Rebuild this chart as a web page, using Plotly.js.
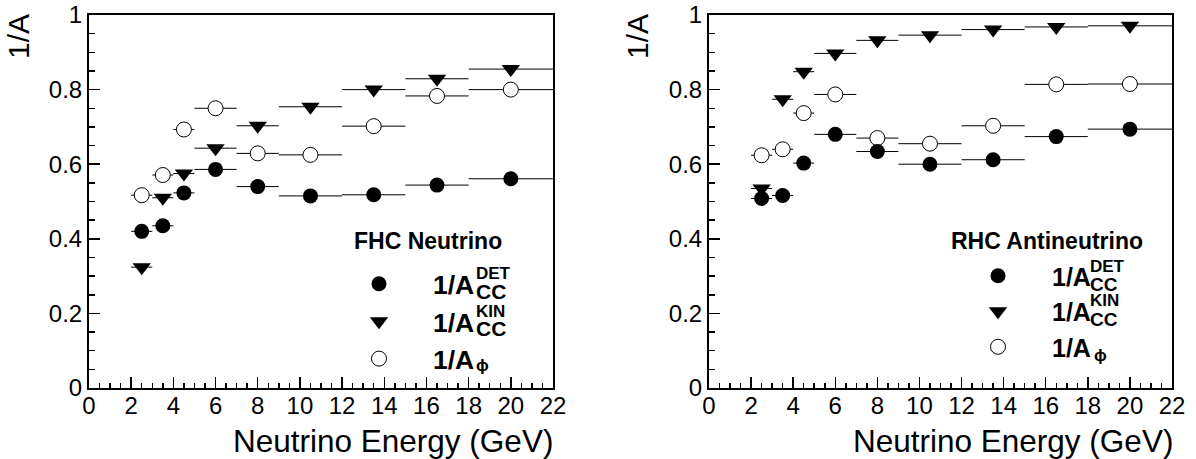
<!DOCTYPE html>
<html><head><meta charset="utf-8">
<script src="https://cdn.plot.ly/plotly-3.0.1.min.js"></script>
<style>html,body{margin:0;padding:0;background:#fff}#chart{width:1196px;height:459px}</style>
</head><body><div id="chart"></div>
<script>
// Energy bin edges (GeV)
const binEdges = [2, 3, 4, 5, 7, 9, 12, 15, 18, 22];
// FHC neutrino
const fhcDet = [0.420, 0.435, 0.523, 0.586, 0.540, 0.515, 0.518, 0.544, 0.561];
const fhcKin = [0.324, 0.510, 0.575, 0.643, 0.703, 0.754, 0.800, 0.829, 0.855];
const fhcPhi = [0.517, 0.571, 0.693, 0.750, 0.629, 0.625, 0.702, 0.783, 0.800];
// RHC antineutrino
const rhcDet = [0.508, 0.516, 0.603, 0.680, 0.634, 0.600, 0.612, 0.674, 0.694];
const rhcKin = [0.535, 0.774, 0.848, 0.897, 0.932, 0.946, 0.961, 0.968, 0.971];
const rhcPhi = [0.624, 0.640, 0.737, 0.787, 0.670, 0.655, 0.703, 0.814, 0.815];
const xTicks = [0,2,4,6,8,10,12,14,16,18,20,22];
const yTicks = [0,0.2,0.4,0.6,0.8,1];
const yTickText = ['0','0.2','0.4','0.6','0.8','1'];

const centers = binEdges.slice(0,-1).map((e,i)=>(e+binEdges[i+1])/2);
const halfW = binEdges.slice(0,-1).map((e,i)=>(binEdges[i+1]-e)/2);

const FONT = 'Liberation Sans, Arial, Helvetica, sans-serif';
const W = 1196, H = 459;
const px = v => v / W;
const py = v => 1 - v / H;

const styles = {
  det: {symbol:'circle', size:15, color:'#000', line:{width:0}},
  kin: {symbol:'triangle-down', size:16, color:'#000', line:{width:0}},
  phi: {symbol:'circle', size:15, color:'#fff', line:{width:1, color:'#000'}}
};
function tr(name, y, st, xa, ya, leg){
  return {
    type:'scatter', mode:'markers', name:name, x:centers, y:y,
    xaxis:xa, yaxis:ya, legend:leg,
    marker:styles[st],
    error_x:{type:'data', array:halfW, symmetric:true, width:0, thickness:1, color:'#000'},
    hoverinfo:'x+y+name'
  };
}
const data = [
  tr('<b>1/A</b>', fhcPhi, 'phi', 'x', 'y', 'legend'),
  tr('<b>1/A</b>', fhcKin, 'kin', 'x', 'y', 'legend'),
  tr('<b>1/A</b>', fhcDet, 'det', 'x', 'y', 'legend'),
  tr('<b>1/A</b>', rhcPhi, 'phi', 'x2', 'y2', 'legend2'),
  tr('<b>1/A</b>', rhcKin, 'kin', 'x2', 'y2', 'legend2'),
  tr('<b>1/A</b>', rhcDet, 'det', 'x2', 'y2', 'legend2')
];

function xax(domain, anchor){
  return {domain:domain, anchor:anchor, range:[0,22], tickvals:xTicks,
    ticks:'inside', ticklen:11, tickwidth:1.5, tickcolor:'#000',
    minor:{dtick:0.5, ticks:'inside', ticklen:5, tickwidth:1.5, tickcolor:'#000'},
    showline:true, mirror:true, linewidth:2, linecolor:'#000',
    showgrid:false, zeroline:false, fixedrange:true, ticklabelstandoff:-5,
    tickfont:{family:FONT, size:24, color:'#000'}};
}
function yax(domain, anchor){
  return {domain:domain, anchor:anchor, range:[0,1], tickvals:yTicks, ticktext:yTickText,
    ticks:'inside', ticklen:11, tickwidth:1.5, tickcolor:'#000',
    minor:{dtick:0.05, ticks:'inside', ticklen:6, tickwidth:1.5, tickcolor:'#000'},
    showline:true, mirror:true, linewidth:2, linecolor:'#000',
    showgrid:false, zeroline:false, fixedrange:true,
    tickfont:{family:FONT, size:24, color:'#000'}};
}
const yDom = [py(388), py(15)];

function legendBox(x, y, size){
  return {x:x, y:y, xanchor:'left', yanchor:'top', bgcolor:'rgba(0,0,0,0)',
    borderwidth:0, itemwidth:98, traceorder:'reversed',
    font:{family:FONT, size:size, color:'#000'}};
}

const annFont = s => ({family:FONT, size:s, color:'#000'});
function ann(text, x, y, size, opts){
  return Object.assign({text:text, xref:'paper', yref:'paper', x:px(x), y:py(y),
    xanchor:'left', yanchor:'middle', showarrow:false, font:annFont(size)}, opts||{});
}
const annotations = [
  ann('Neutrino Energy (GeV)', 555, 441, 31.5, {xanchor:'right'}),
  ann('Neutrino Energy (GeV)', 1175, 441, 31.5, {xanchor:'right'}),
  ann('1/A', 19, 37, 30, {xanchor:'center', textangle:-90}),
  ann('1/A', 638, 37, 30, {xanchor:'center', textangle:-90}),
  // legend headers
  ann('<b>FHC Neutrino</b>', 352, 241, 23),
  ann('<b>RHC Antineutrino</b>', 949, 241, 23),
  // superscripts / subscripts for legend (left)
  ann('<b>DET</b>', 474, 273, 17),
  ann('<b>CC</b>', 474, 291, 21),
  ann('<b>KIN</b>', 474, 311, 17),
  ann('<b>CC</b>', 474, 328, 21),
  ann('<b>ϕ</b>', 474, 365, 17),
  // right
  ann('<b>DET</b>', 1088, 266, 17),
  ann('<b>CC</b>', 1088, 284, 19),
  ann('<b>KIN</b>', 1088, 300, 17),
  ann('<b>CC</b>', 1088, 319, 19),
  ann('<b>ϕ</b>', 1092, 355, 17)
];

const layout = {
  width:W, height:H, margin:{l:0,r:0,t:0,b:0},
  paper_bgcolor:'#fff', plot_bgcolor:'#fff',
  xaxis: xax([px(89), px(553)], 'y'),
  yaxis: yax(yDom, 'x'),
  xaxis2: xax([px(709), px(1172)], 'y2'),
  yaxis2: yax(yDom, 'x2'),
  legend: legendBox(px(325), py(260), 26.5),
  legend2: legendBox(px(944), py(253), 25),
  annotations: annotations,
  showlegend:true
};
Plotly.newPlot('chart', data, layout, {displayModeBar:false, staticPlot:true});
</script></body></html>
